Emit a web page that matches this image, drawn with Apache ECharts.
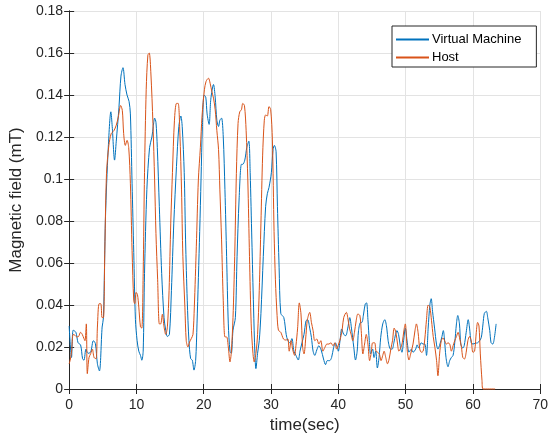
<!DOCTYPE html>
<html>
<head>
<meta charset="utf-8">
<script src="https://cdn.jsdelivr.net/npm/echarts@6/dist/echarts.min.js"></script>
<style>
html,body{margin:0;padding:0;background:#fff;}
#chart{width:551px;height:441px;}
</style>
</head>
<body>
<div id="chart"></div>
<script>
// ---- data ----
var xTicks = [0, 10, 20, 30, 40, 50, 60, 70];
var yTicks = [0, 0.02, 0.04, 0.06, 0.08, 0.1, 0.12, 0.14, 0.16, 0.18];

var vmTime = [0,0.35,0.6,1.0,1.33,1.7,2.0,2.2,2.5,2.8,3.2,3.6,3.9,4.2,4.5,4.9,5.1,5.4,5.8,6.2,6.4,6.75,7.0,7.4,7.7,8.0,8.3,8.6,8.9,9.1,9.35,9.6,9.85,10.1,10.35,10.6,10.8,11.0,11.2,11.55,11.95,12.3,12.5,12.7,12.9,13.1,13.4,13.75,14.1,14.35,14.6,14.9,15.2,15.55,15.95,16.3,16.6,16.8,17.1,17.3,17.55,17.8,18.05,18.3,18.55,18.8,19.0,19.4,19.6,19.8,20.05,20.3,20.5,20.8,21.05,21.45,21.7,21.95,22.2,22.4,22.65,22.9,23.15,23.4,23.65,23.9,24.1,24.35,24.7,24.95,25.25,25.6,25.8,26.1,26.4,26.7,26.9,27.15,27.4,27.6,27.75,28.0,28.25,28.5,28.85,29.2,29.45,29.7,30.05,30.3,30.5,30.75,30.95,31.2,31.45,31.9,32.25,32.5,32.8,33.1,33.4,33.7,34.05,34.3,34.6,34.9,35.2,35.45,35.75,36.0,36.25,36.5,36.8,37.1,37.45,37.8,38.1,38.35,38.7,39.0,39.3,39.55,39.85,40.0,40.25,40.5,40.8,41.1,41.4,41.7,41.95,42.3,42.55,42.8,43.0,43.3,43.5,43.75,44.0,44.2,44.4,44.6,44.8,45.1,45.3,45.55,45.8,46.05,46.3,46.6,46.9,47.2,47.4,47.75,48.0,48.25,48.5,48.7,48.95,49.2,49.45,49.7,49.95,50.25,50.5,50.85,51.1,51.5,51.7,51.95,52.3,52.6,52.85,53.1,53.35,53.6,53.8,54.0,54.3,54.6,54.8,55.1,55.4,55.6,55.75,56.0,56.3,56.55,56.8,57.05,57.3,57.55,57.75,58.0,58.2,58.5,58.7,59.0,59.3,59.5,59.75,60.0,60.35,60.7,61.0,61.25,61.5,61.7,62.0,62.2,62.5,62.7,62.95,63.2,63.45];
var vmField = [0.030,0.015,0.028,0.027,0.022,0.021,0.0144,0.0137,0.019,0.017,0.0176,0.023,0.0216,0.012,0.0086,0.0295,0.034,0.082,0.114,0.132,0.125,0.109,0.118,0.134,0.149,0.153,0.145,0.140,0.137,0.131,0.098,0.065,0.033,0.023,0.018,0.016,0.0137,0.018,0.055,0.095,0.115,0.120,0.125,0.129,0.127,0.115,0.087,0.055,0.034,0.028,0.025,0.026,0.047,0.079,0.106,0.125,0.130,0.125,0.103,0.071,0.042,0.023,0.0145,0.0137,0.009,0.0137,0.031,0.075,0.100,0.125,0.140,0.139,0.131,0.126,0.138,0.145,0.139,0.128,0.125,0.128,0.129,0.120,0.095,0.063,0.031,0.018,0.017,0.028,0.034,0.063,0.090,0.107,0.107,0.109,0.115,0.118,0.103,0.071,0.039,0.017,0.0097,0.017,0.023,0.036,0.063,0.087,0.093,0.096,0.103,0.114,0.116,0.113,0.087,0.058,0.036,0.034,0.026,0.023,0.022,0.024,0.018,0.016,0.0138,0.018,0.022,0.026,0.0325,0.033,0.029,0.0246,0.018,0.016,0.0186,0.0206,0.0186,0.0143,0.0116,0.0135,0.0135,0.015,0.0198,0.022,0.0198,0.018,0.023,0.0286,0.026,0.0254,0.029,0.034,0.029,0.0198,0.0138,0.018,0.0278,0.0317,0.0317,0.0357,0.0405,0.041,0.033,0.023,0.0167,0.019,0.015,0.018,0.010,0.015,0.0246,0.031,0.033,0.029,0.023,0.019,0.019,0.022,0.026,0.0278,0.026,0.0206,0.0175,0.023,0.029,0.022,0.0175,0.019,0.0175,0.019,0.021,0.0195,0.022,0.0214,0.0214,0.016,0.029,0.040,0.043,0.037,0.029,0.021,0.019,0.0214,0.025,0.0278,0.0246,0.015,0.0106,0.0135,0.015,0.016,0.022,0.031,0.035,0.031,0.0214,0.0195,0.0206,0.027,0.033,0.029,0.022,0.0214,0.0218,0.022,0.023,0.0246,0.031,0.036,0.037,0.034,0.0278,0.022,0.0214,0.0246,0.031];

var hostTime = [0,0.15,0.35,0.6,0.85,1.15,1.4,1.7,1.95,2.2,2.35,2.55,2.7,2.95,3.2,3.45,3.7,4.0,4.2,4.45,4.7,4.9,5.1,5.3,5.55,5.9,6.25,6.65,7.0,7.3,7.65,7.9,8.1,8.35,8.6,8.85,9.1,9.35,9.6,9.75,9.95,10.15,10.35,10.6,10.8,11.0,11.2,11.45,11.7,11.9,12.15,12.45,12.7,12.9,13.15,13.4,13.6,13.85,14.1,14.35,14.6,14.85,15.1,15.35,15.65,15.95,16.2,16.45,16.7,16.9,17.2,17.4,17.65,17.9,18.15,18.4,18.6,18.9,19.2,19.5,19.75,20.1,20.35,20.7,20.95,21.2,21.45,21.7,21.95,22.2,22.4,22.65,22.9,23.15,23.4,23.65,23.9,24.1,24.35,24.6,24.85,25.1,25.35,25.6,25.8,26.05,26.3,26.55,26.8,27.05,27.3,27.5,27.75,28.0,28.25,28.5,28.75,29.0,29.2,29.45,29.7,29.95,30.2,30.45,30.65,30.9,31.1,31.45,31.85,32.2,32.5,32.7,33.0,33.2,33.5,33.7,33.95,34.2,34.45,34.7,34.9,35.2,35.4,35.75,36.0,36.25,36.5,36.8,37.1,37.4,37.7,38.0,38.3,38.6,38.9,39.2,39.5,39.75,40.05,40.35,40.6,40.8,41.2,41.4,41.65,41.9,42.15,42.4,42.65,42.9,43.2,43.4,43.65,43.9,44.15,44.4,44.65,44.9,45.1,45.4,45.6,45.85,46.1,46.35,46.6,46.8,47.05,47.3,47.55,47.8,48.05,48.3,48.55,48.8,49.0,49.3,49.5,49.75,49.95,50.25,50.5,50.75,51.1,51.4,51.6,51.85,52.1,52.35,52.6,52.85,53.1,53.35,53.6,53.85,54.1,54.35,54.6,54.8,55.05,55.3,55.55,55.8,56.05,56.3,56.55,56.8,57.05,57.3,57.55,57.8,58.0,58.3,58.5,58.75,59.0,59.25,59.5,59.75,60.0,60.25,60.5,60.7,60.9,61.1,61.35,61.5,63.3];
var hostField = [0.012,0.0137,0.0176,0.026,0.0256,0.0248,0.025,0.027,0.026,0.024,0.023,0.031,0.0073,0.015,0.0168,0.019,0.015,0.0144,0.0295,0.0406,0.0406,0.034,0.034,0.066,0.1025,0.116,0.1216,0.123,0.1256,0.1295,0.135,0.1327,0.1216,0.116,0.1184,0.115,0.098,0.066,0.042,0.0406,0.046,0.045,0.039,0.0296,0.029,0.055,0.103,0.1425,0.159,0.160,0.150,0.1265,0.0995,0.074,0.052,0.031,0.031,0.0356,0.0296,0.026,0.0296,0.047,0.079,0.103,0.128,0.136,0.136,0.122,0.0948,0.063,0.039,0.023,0.020,0.0224,0.024,0.026,0.039,0.068,0.0995,0.115,0.130,0.1425,0.1465,0.148,0.1456,0.1417,0.1385,0.133,0.123,0.114,0.0948,0.071,0.042,0.0248,0.0248,0.020,0.0129,0.0176,0.034,0.063,0.1027,0.1265,0.132,0.133,0.136,0.135,0.123,0.0995,0.063,0.031,0.0176,0.0129,0.0169,0.026,0.047,0.079,0.111,0.128,0.1305,0.130,0.1345,0.133,0.1186,0.075,0.052,0.035,0.028,0.027,0.0238,0.0233,0.0238,0.018,0.023,0.019,0.016,0.0206,0.029,0.041,0.0357,0.0198,0.0167,0.026,0.033,0.0365,0.0317,0.0278,0.023,0.0238,0.0214,0.023,0.018,0.0198,0.0214,0.0214,0.022,0.0206,0.022,0.019,0.0214,0.0246,0.029,0.034,0.0365,0.034,0.029,0.026,0.023,0.027,0.0325,0.0357,0.035,0.0278,0.0167,0.0214,0.026,0.0214,0.0135,0.0175,0.022,0.022,0.018,0.0175,0.0167,0.0135,0.016,0.018,0.015,0.012,0.0143,0.019,0.023,0.029,0.027,0.0214,0.018,0.0198,0.022,0.028,0.031,0.018,0.0138,0.0167,0.0214,0.028,0.031,0.027,0.019,0.0175,0.018,0.0238,0.033,0.040,0.039,0.0325,0.025,0.0198,0.0135,0.0063,0.0167,0.023,0.0243,0.023,0.0214,0.022,0.0214,0.018,0.0206,0.023,0.025,0.027,0.0246,0.0198,0.015,0.0143,0.0175,0.023,0.025,0.023,0.0175,0.018,0.027,0.0317,0.030,0.0167,0.004,0,0];

var seriesNames = ['Virtual Machine', 'Host'];
var seriesColors = ['#0072BD', '#D95319'];

function pairs(t, v) {
  var out = [];
  for (var i = 0; i < t.length; i++) out.push([t[i], v[i]]);
  return out;
}

var axisColor = '#262626';
var font = '"Liberation Sans", Arial, Helvetica, sans-serif';
var chart = echarts.init(document.getElementById('chart'), null, {renderer: 'canvas'});

var xMin = xTicks[0], xMax = xTicks[xTicks.length - 1];
var yMin = yTicks[0], yMax = yTicks[yTicks.length - 1];

chart.setOption({
  animation: false,
  backgroundColor: '#fff',
  grid: {left: 64, right: 9, top: 11, bottom: 52, containLabel: false},
  legend: {
    orient: 'vertical',
    left: 392,
    top: 26,
    icon: 'rect',
    itemWidth: 33,
    itemHeight: 2,
    itemGap: 3,
    padding: [6, 15, 2, 4],
    borderColor: axisColor,
    borderWidth: 1,
    borderRadius: 0,
    backgroundColor: '#fff',
    textStyle: {fontFamily: font, fontSize: 13, color: '#000', padding: [0, 0, 0, -2], lineHeight: 15},
    data: seriesNames
  },
  xAxis: [{
    type: 'value', min: xMin, max: xMax, interval: 10,
    name: 'time(sec)', nameLocation: 'middle', nameGap: 28,
    nameTextStyle: {fontFamily: font, fontSize: 17, color: axisColor},
    axisLine: {show: true, lineStyle: {color: axisColor, width: 1}},
    axisTick: {show: true, inside: true, length: 5, lineStyle: {color: axisColor}},
    axisLabel: {fontFamily: font, fontSize: 14, color: axisColor, margin: 9},
    splitLine: {show: true, lineStyle: {color: '#e3e3e3', width: 1}}
  }, {
    type: 'value', min: xMin, max: xMax, interval: 10, position: 'top',
    axisLine: {show: true, lineStyle: {color: axisColor, width: 1}},
    axisTick: {show: true, inside: true, length: 5, lineStyle: {color: axisColor}},
    axisLabel: {show: false}, splitLine: {show: false}
  }],
  yAxis: [{
    type: 'value', min: yMin, max: yMax, interval: 0.02,
    name: 'Magnetic field (mT)', nameLocation: 'middle', nameGap: 37,
    nameTextStyle: {fontFamily: font, fontSize: 17, color: axisColor},
    axisLine: {show: true, lineStyle: {color: axisColor, width: 1}},
    axisTick: {show: true, inside: true, length: 5, lineStyle: {color: axisColor}},
    axisLabel: {fontFamily: font, fontSize: 14, color: axisColor, margin: 6,
      formatter: function (v) { return String(Math.round(v * 100) / 100); }},
    splitLine: {show: true, lineStyle: {color: '#e3e3e3', width: 1}}
  }, {
    type: 'value', min: yMin, max: yMax, interval: 0.02, position: 'right',
    axisLine: {show: true, lineStyle: {color: axisColor, width: 1}},
    axisTick: {show: true, inside: true, length: 5, lineStyle: {color: axisColor}},
    axisLabel: {show: false}, splitLine: {show: false}
  }],
  series: [{
    name: seriesNames[0], type: 'line', xAxisIndex: 0, yAxisIndex: 0,
    data: pairs(vmTime, vmField), symbol: 'none', smooth: 0.3, clip: false,
    lineStyle: {color: seriesColors[0], width: 1}, itemStyle: {color: seriesColors[0]}, z: 3
  }, {
    name: seriesNames[1], type: 'line', xAxisIndex: 0, yAxisIndex: 0,
    data: pairs(hostTime, hostField), symbol: 'none', smooth: 0.3, clip: false,
    lineStyle: {color: seriesColors[1], width: 1}, itemStyle: {color: seriesColors[1]}, z: 4
  }]
});
</script>
</body>
</html>
